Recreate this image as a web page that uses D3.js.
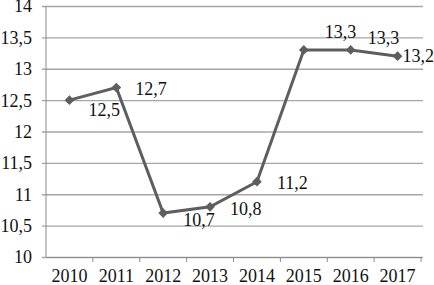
<!DOCTYPE html>
<html>
<head>
<meta charset="utf-8">
<script src="https://cdn.jsdelivr.net/npm/d3@7"></script>
<style>
  body { margin: 0; background: #fff; }
  svg text { font-family: 'Liberation Serif', 'DejaVu Serif', serif !important; fill: #111; }
</style>
</head>
<body>
<div id="chart"></div>
<script>
var years = ["2010", "2011", "2012", "2013", "2014", "2015", "2016", "2017"];
var values = [12.5, 12.7, 10.7, 10.8, 11.2, 13.3, 13.3, 13.2];
var yTicks = [10, 10.5, 11, 11.5, 12, 12.5, 13, 13.5, 14];

// hand-placed label offsets (dx, dy from the point), like the original
var labelDx = [19, 19, 20, 20, 20, 21, 17, 5];
var labelDy = [16, 7, 13, 8, 7, -12, -6, 6];

var margin = {top: 6, right: 13, bottom: 28, left: 46};
var width = 434 - margin.left - margin.right;
var height = 285 - margin.top - margin.bottom;

var fmt = function(v){ return String(v).replace(".", ","); };
var serif = "'Liberation Serif', serif";

var svg = d3.select("#chart")
  .append("svg")
    .attr("width", 434)
    .attr("height", 285)
    .attr("font-family", serif);

var g = svg.append("g")
  .attr("transform", "translate(" + margin.left + "," + margin.top + ")");

var x = d3.scaleBand()
  .domain(years)
  .range([0, width]);

var y = d3.scaleLinear()
  .domain([10, 14])
  .range([height, 0]);

// gridlines + left ticks
var yAxis = g.append("g")
  .call(d3.axisLeft(y).tickValues(yTicks).tickSize(-width - 2).tickPadding(14).tickFormat(fmt));
yAxis.attr("font-family", serif).attr("font-size", null);
yAxis.select(".domain").remove();
yAxis.selectAll(".tick line")
  .attr("x1", -4)
  .attr("stroke", "#a6a6a6")
  .attr("stroke-width", 1.3);
yAxis.selectAll(".tick text")
  .attr("font-family", serif)
  .style("font-size", "18px")
  .attr("dy", "0.33em");

// left axis line
g.append("line")
  .attr("x1", 0).attr("x2", 0)
  .attr("y1", 0).attr("y2", height)
  .attr("stroke", "#8c8c8c")
  .attr("stroke-width", 1);

// bottom axis, ticks on band boundaries
var xAxis = g.append("g")
  .attr("transform", "translate(0," + height + ")")
  .call(d3.axisBottom(x).tickSize(0));
xAxis.attr("font-family", serif).attr("font-size", null);
xAxis.select(".domain").attr("stroke", "#8c8c8c");
xAxis.selectAll(".tick text")
  .attr("font-family", serif)
  .style("font-size", "18px")
  .attr("y", 25)
  .attr("dy", null);

g.selectAll(".xtick")
  .data(years)
  .enter()
  .append("line")
  .attr("class", "xtick")
  .attr("x1", function(d){ return x(d) + x.bandwidth(); })
  .attr("x2", function(d){ return x(d) + x.bandwidth(); })
  .attr("y1", height)
  .attr("y2", height + 5)
  .attr("stroke", "#8c8c8c");

var pts = years.map(function(yr, i){ return {year: yr, value: values[i], i: i}; });

var line = d3.line()
  .x(function(d){ return x(d.year) + x.bandwidth() / 2; })
  .y(function(d){ return y(d.value); });

g.append("path")
  .datum(pts)
  .attr("fill", "none")
  .attr("stroke", "#5e5e5e")
  .attr("stroke-width", 3)
  .attr("d", line);

g.selectAll(".marker")
  .data(pts)
  .enter()
  .append("path")
  .attr("class", "marker")
  .attr("d", d3.symbol().type(d3.symbolDiamond2).size(60))
  .attr("transform", function(d){
    return "translate(" + (x(d.year) + x.bandwidth() / 2) + "," + y(d.value) + ")";
  })
  .attr("fill", "#5e5e5e");

g.selectAll(".lbl")
  .data(pts)
  .enter()
  .append("text")
  .attr("class", "lbl")
  .attr("font-family", serif)
  .attr("x", function(d){ return x(d.year) + x.bandwidth() / 2 + labelDx[d.i]; })
  .attr("y", function(d){ return y(d.value) + labelDy[d.i]; })
  .style("font-size", "18px")
  .text(function(d){ return fmt(d.value); });
</script>
</body>
</html>
